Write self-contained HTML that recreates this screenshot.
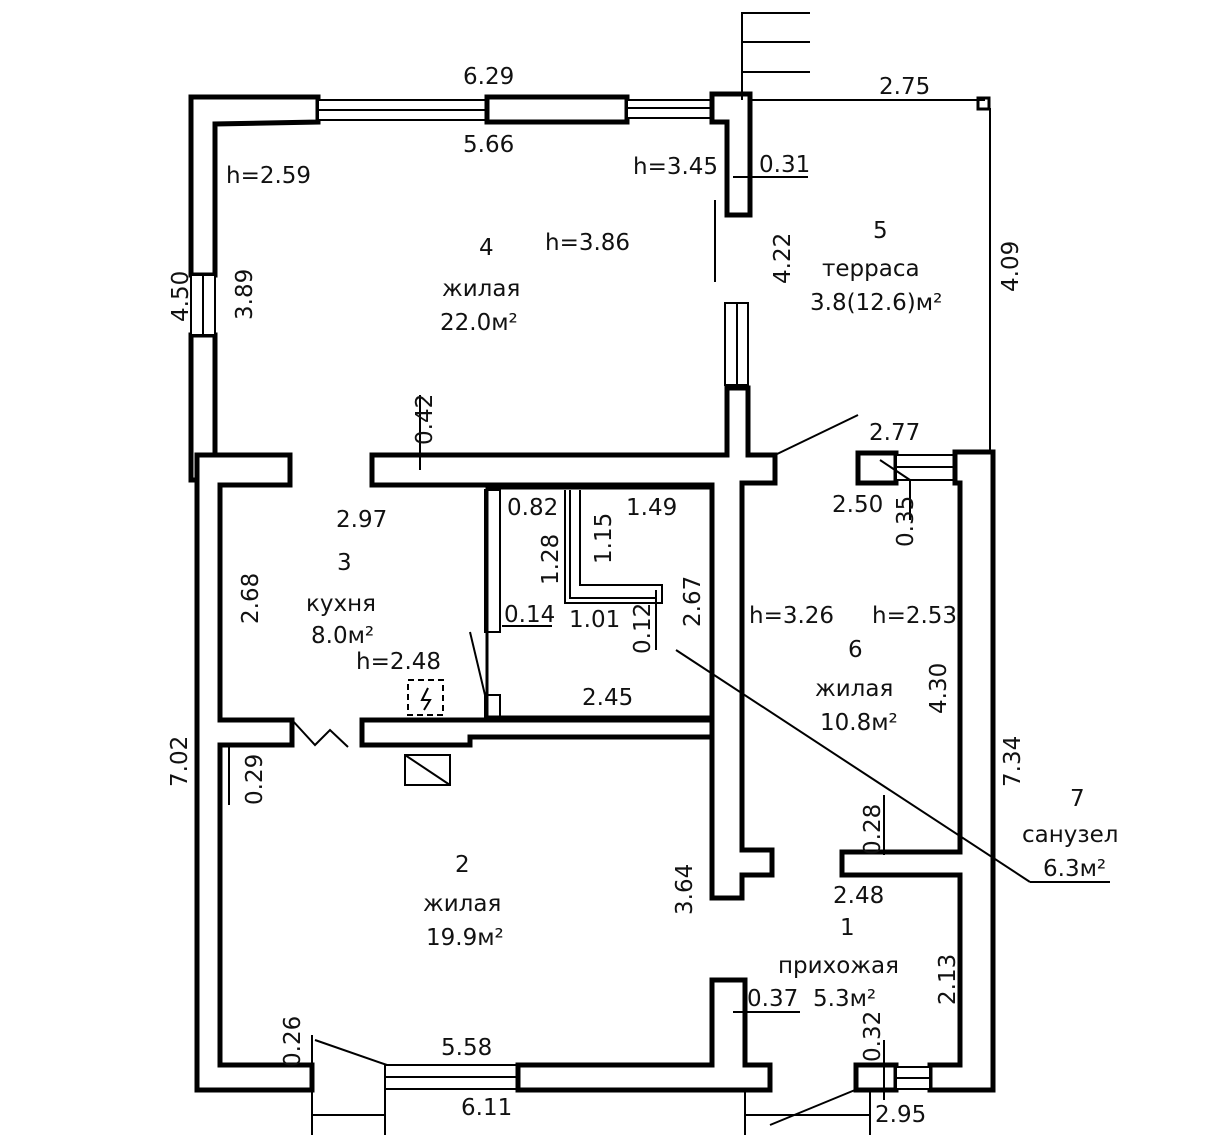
<!DOCTYPE html>
<html><head><meta charset="utf-8"><style>
html,body{margin:0;padding:0;background:#fff;}
svg{display:block}
text{font-family:"DejaVu Sans","Liberation Sans",sans-serif;font-size:23px;fill:#111;}
</style></head><body>
<svg width="1221" height="1135" viewBox="0 0 1221 1135">
<g fill="#fff" stroke="#000" stroke-width="5" stroke-linejoin="miter">
<polygon points="191,97 318,97 318,122 215,124 215,275 191,275"/>
<rect x="191" y="335" width="24" height="145"/>
<rect x="318" y="100" width="169" height="20" stroke-width="2"/>
<rect x="487" y="97" width="140" height="25"/>
<rect x="627" y="100" width="85" height="18" stroke-width="2"/>
<polygon points="712,94 750,94 750,215 727,215 727,122 712,122"/>
<rect x="725" y="303" width="23" height="82" stroke-width="2"/>
<rect x="191" y="275" width="24" height="60" stroke-width="2"/>
<polygon points="727,388 748,388 748,455 775,455 775,483 742,483 742,850 772,850 772,875 742,875 742,898 712,898 712,485 372,485 372,455 727,455"/>
<polygon points="197,455 290,455 290,485 220,485 220,720 292,720 292,745 220,745 220,1065 312,1065 312,1090 197,1090"/>
<polygon points="362,720 712,720 712,737 470,737 470,745 362,745"/>
<rect x="385" y="1065" width="133" height="24" stroke-width="2"/>
<polygon points="518,1065 712,1065 712,980 745,980 745,1065 770,1065 770,1090 518,1090"/>
<rect x="858" y="453" width="38" height="30"/>
<rect x="896" y="455" width="59" height="25" stroke-width="2"/>
<polygon points="955,452 993,452 993,1090 930,1090 930,1065 960,1065 960,875 842,875 842,852 960,852 960,483 955,483"/>
<rect x="856" y="1065" width="40" height="25"/>
<rect x="896" y="1067" width="34" height="22" stroke-width="2"/>
</g>
<g fill="none" stroke="#000" stroke-width="2">
<line x1="318" y1="110" x2="487" y2="110"/>
<line x1="627" y1="108" x2="712" y2="108"/>
<line x1="203" y1="275" x2="203" y2="335"/>
<line x1="737" y1="303" x2="737" y2="385"/>
<line x1="896" y1="467" x2="955" y2="467"/>
<line x1="896" y1="1078" x2="930" y2="1078"/>
<line x1="385" y1="1077" x2="518" y2="1077"/>
<rect x="487" y="488" width="225" height="229" stroke-width="3"/>
<rect x="485" y="490" width="15" height="142"/>
<rect x="485" y="695" width="15" height="22"/>
<polyline points="565,490 565,603 662,603 662,585 580,585 580,490"/>
<polyline points="570,490 570,598 657,598"/>
<polyline points="742,100 742,13 810,13"/>
<line x1="742" y1="42" x2="810" y2="42"/>
<line x1="742" y1="72" x2="810" y2="72"/>
<line x1="750" y1="100" x2="985" y2="100"/>
<rect x="978" y="98" width="11" height="11" stroke-width="3"/>
<line x1="990" y1="108" x2="990" y2="452"/>
<line x1="715" y1="200" x2="715" y2="282"/>
<line x1="733" y1="177" x2="808" y2="177"/>
<line x1="420" y1="395" x2="420" y2="470"/>
<line x1="775" y1="455" x2="858" y2="415"/>
<line x1="880" y1="460" x2="910" y2="480"/><line x1="910" y1="480" x2="910" y2="520"/>
<polyline points="292,720 315,745 330,730 348,747"/>
<line x1="470" y1="632" x2="485" y2="695"/>
<rect x="408" y="680" width="35" height="35" stroke-dasharray="6,4"/>
<path d="M428,688 L422,700 L430,700 L424,710" />
<rect x="405" y="755" width="45" height="30"/>
<line x1="405" y1="755" x2="450" y2="785"/>
<line x1="502" y1="626" x2="552" y2="626"/>
<line x1="656" y1="590" x2="656" y2="650"/>
<line x1="676" y1="650" x2="1030" y2="882"/><line x1="1030" y1="882" x2="1110" y2="882"/>
<line x1="229" y1="745" x2="229" y2="805"/>
<line x1="312" y1="1035" x2="312" y2="1135"/>
<line x1="315" y1="1040" x2="387" y2="1065"/>
<line x1="385" y1="1090" x2="385" y2="1135"/>
<line x1="312" y1="1115" x2="385" y2="1115"/>
<line x1="733" y1="1012" x2="800" y2="1012"/>
<line x1="745" y1="1090" x2="745" y2="1135"/>
<line x1="745" y1="1115" x2="870" y2="1115"/>
<line x1="770" y1="1125" x2="855" y2="1090"/>
<line x1="870" y1="1090" x2="870" y2="1135"/>
<line x1="884" y1="1040" x2="884" y2="1100"/>
<line x1="884" y1="795" x2="884" y2="855"/>
</g>
<g>
<text x="463" y="84">6.29</text>
<text x="463" y="152">5.66</text>
<text x="226" y="183">h=2.59</text>
<text x="633" y="174">h=3.45</text>
<text x="759" y="172">0.31</text>
<text x="545" y="250">h=3.86</text>
<text x="479" y="255">4</text>
<text x="442" y="296">жилая</text>
<text x="440" y="330">22.0м²</text>
<text x="873" y="238">5</text>
<text x="822" y="276">терраса</text>
<text x="810" y="310">3.8(12.6)м²</text>
<text x="879" y="94">2.75</text>
<text x="869" y="440">2.77</text>
<text x="832" y="512">2.50</text>
<text x="336" y="527">2.97</text>
<text x="337" y="570">3</text>
<text x="306" y="611">кухня</text>
<text x="311" y="643">8.0м²</text>
<text x="356" y="669">h=2.48</text>
<text x="507" y="515">0.82</text>
<text x="626" y="515">1.49</text>
<text x="504" y="622">0.14</text>
<text x="569" y="627">1.01</text>
<text x="582" y="705">2.45</text>
<text x="749" y="623">h=3.26</text>
<text x="872" y="623">h=2.53</text>
<text x="848" y="657">6</text>
<text x="815" y="696">жилая</text>
<text x="820" y="730">10.8м²</text>
<text x="1070" y="806">7</text>
<text x="1022" y="842">санузел</text>
<text x="1043" y="876">6.3м²</text>
<text x="455" y="872">2</text>
<text x="423" y="911">жилая</text>
<text x="426" y="945">19.9м²</text>
<text x="833" y="903">2.48</text>
<text x="840" y="935">1</text>
<text x="778" y="973">прихожая</text>
<text x="747" y="1006">0.37</text>
<text x="813" y="1006">5.3м²</text>
<text x="441" y="1055">5.58</text>
<text x="461" y="1115">6.11</text>
<text x="875" y="1122">2.95</text>
<g transform="translate(188,322) rotate(-90)"><text x="0" y="0">4.50</text></g>
<g transform="translate(252,320) rotate(-90)"><text x="0" y="0">3.89</text></g>
<g transform="translate(790,284) rotate(-90)"><text x="0" y="0">4.22</text></g>
<g transform="translate(1018,292) rotate(-90)"><text x="0" y="0">4.09</text></g>
<g transform="translate(432,445) rotate(-90)"><text x="0" y="0">0.42</text></g>
<g transform="translate(258,624) rotate(-90)"><text x="0" y="0">2.68</text></g>
<g transform="translate(558,585) rotate(-90)"><text x="0" y="0">1.28</text></g>
<g transform="translate(611,564) rotate(-90)"><text x="0" y="0">1.15</text></g>
<g transform="translate(650,654) rotate(-90)"><text x="0" y="0">0.12</text></g>
<g transform="translate(700,627) rotate(-90)"><text x="0" y="0">2.67</text></g>
<g transform="translate(913,547) rotate(-90)"><text x="0" y="0">0.35</text></g>
<g transform="translate(946,714) rotate(-90)"><text x="0" y="0">4.30</text></g>
<g transform="translate(1020,787) rotate(-90)"><text x="0" y="0">7.34</text></g>
<g transform="translate(187,787) rotate(-90)"><text x="0" y="0">7.02</text></g>
<g transform="translate(262,805) rotate(-90)"><text x="0" y="0">0.29</text></g>
<g transform="translate(880,855) rotate(-90)"><text x="0" y="0">0.28</text></g>
<g transform="translate(692,915) rotate(-90)"><text x="0" y="0">3.64</text></g>
<g transform="translate(955,1005) rotate(-90)"><text x="0" y="0">2.13</text></g>
<g transform="translate(880,1062) rotate(-90)"><text x="0" y="0">0.32</text></g>
<g transform="translate(300,1067) rotate(-90)"><text x="0" y="0">0.26</text></g>
</g>
</svg>
</body></html>
